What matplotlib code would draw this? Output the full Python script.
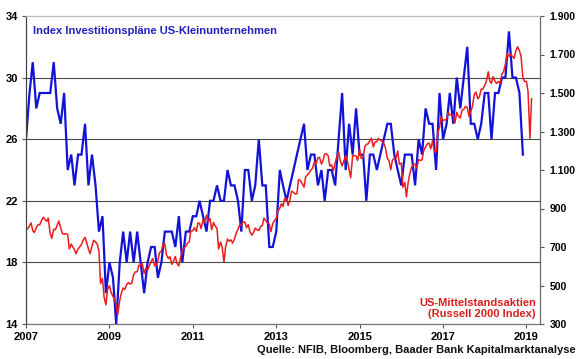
import pandas as pd
import matplotlib
matplotlib.use("Agg")
import matplotlib.pyplot as plt
import matplotlib.dates as mdates

# NFIB capex plans index, monthly from Jan 2007 (left axis)
capex_plans = [
    26, 29, 31, 28, 29, 29, 29, 29, 31, 28, 27, 29,  # 2007
    24, 25, 23, 25, 25, 27, 23, 25, 23, 20, 21, 16,  # 2008
    18, 17, 14, 18, 20, 18, 20, 18, 20, 18, 16, 18,  # 2009
    19, 19, 17, 18, 20, 20, 20, 19, 21, 18, 20, 20,  # 2010
    21, 21, 22, 21, 20, 22, 22, 23, 22, 22, 24, 23,  # 2011
    23, 22, 20, 24, 24, 22, 23, 26, 23, 23, 19, 19,  # 2012
    20, 24, 23, 22, 23, 24, 25, 26, 27, 24, 25, 25,  # 2013
    23, 24, 22, 24, 24, 23, 26, 29, 24, 27, 25, 28,  # 2014
    25, 25, 22, 25, 25, 24, 25, 26, 27, 27, 25, 24,  # 2015
    23, 25, 25, 25, 23, 26, 25, 28, 27, 27, 24, 29,  # 2016
    26, 27, 29, 27, 30, 28, 30, 32, 27, 27, 26, 27,  # 2017
    29, 29, 26, 29, 29, 30, 30, 33, 30, 30, 29, 25,  # 2018
]

# Russell 2000, on the 1st and 15th of each month from Jan 2007 (right axis)
russell = [
    788, 795, 810, 825, 785, 775, 800, 815, 815, 835, 855, 845,
    833, 850, 770, 745, 792, 790, 812, 835, 800, 770, 766, 770,  # 2007
    766, 690, 715, 700, 686, 665, 690, 700, 714, 735, 750, 725,
    690, 665, 705, 735, 727, 715, 680, 510, 537, 440, 400, 480,  # 2008
    499, 465, 443, 430, 395, 350, 423, 460, 487, 480, 505, 515,
    508, 510, 557, 570, 572, 605, 604, 615, 562, 590, 580, 600,  # 2009
    625, 640, 602, 605, 628, 670, 679, 715, 717, 660, 640, 650,
    610, 625, 651, 615, 602, 645, 676, 695, 703, 720, 727, 785,  # 2010
    784, 800, 781, 825, 823, 795, 843, 830, 865, 830, 848, 790,
    827, 810, 797, 690, 726, 700, 620, 700, 741, 730, 737, 720,  # 2011
    741, 770, 792, 815, 810, 830, 830, 800, 816, 780, 761, 775,
    798, 790, 786, 805, 812, 850, 837, 825, 819, 780, 822, 835,  # 2012
    849, 885, 902, 925, 911, 950, 951, 915, 947, 990, 984, 975,
    977, 1050, 1045, 1030, 1011, 1065, 1074, 1085, 1100, 1110, 1143, 1130,  # 2013
    1164, 1165, 1131, 1150, 1183, 1185, 1173, 1120, 1127, 1095, 1135, 1170,
    1193, 1150, 1121, 1145, 1175, 1150, 1101, 1060, 1174, 1175, 1173, 1150,  # 2014
    1205, 1160, 1165, 1220, 1233, 1235, 1253, 1265, 1220, 1245, 1247, 1265,
    1254, 1250, 1239, 1215, 1159, 1150, 1101, 1150, 1162, 1160, 1199, 1130,  # 2015
    1136, 1010, 1035, 960, 1034, 1080, 1114, 1130, 1130, 1110, 1154, 1150,
    1152, 1200, 1220, 1235, 1240, 1210, 1252, 1200, 1191, 1290, 1322, 1375,  # 2016
    1357, 1360, 1362, 1400, 1387, 1385, 1386, 1345, 1400, 1380, 1370, 1410,
    1415, 1430, 1425, 1380, 1405, 1430, 1491, 1505, 1470, 1480, 1520, 1520,  # 2017
    1540, 1560, 1610, 1560, 1550, 1585, 1560, 1550, 1560, 1550, 1600, 1611,
    1650, 1706, 1690, 1700, 1690, 1680, 1720, 1740, 1720, 1690, 1580, 1560,  # 2018
    1560, 1510, 1265, 1470,  # 2019
]

year_ticks = [2007, 2009, 2011, 2013, 2015, 2017, 2019]
left_ticks = [14, 18, 22, 26, 30, 34]
right_ticks = [300, 500, 700, 900, 1100, 1300, 1500, 1700, 1900]

title_left = "Index Investitionspläne US-Kleinunternehmen"
title_right = "US-Mittelstandsaktien\n(Russell 2000 Index)"
source = "Quelle: NFIB, Bloomberg, Baader Bank Kapitalmarktanalyse"

BLUE = "#1212d8"
RED = "#ec1c1c"

plt.rcParams["font.family"] = ["Liberation Sans", "DejaVu Sans"]
plt.rcParams["font.weight"] = "bold"

months = pd.date_range("2007-01-01", periods=len(capex_plans), freq="MS")
half_months = pd.date_range("2007-01-01", periods=len(russell), freq="SMS")

fig = plt.figure(figsize=(5.8, 3.59), dpi=100)
ax = fig.add_axes([26 / 580, 1 - 324 / 359, 514 / 580, 308 / 359])
ax2 = ax.twinx()

ax.plot(months, capex_plans, color=BLUE, lw=1.6, solid_joinstyle="miter")
ax2.plot(half_months, russell, color=RED, lw=1.1)

ax.set_xlim(pd.Timestamp("2007-01-01"), pd.Timestamp("2019-04-30"))
ax.set_ylim(14, 34)
ax2.set_ylim(300, 1900)

ax.set_xticks([pd.Timestamp(f"{y}-01-01") for y in year_ticks])
ax.xaxis.set_major_formatter(mdates.DateFormatter("%Y"))
ax.set_yticks(left_ticks)
ax.set_yticklabels([str(v) for v in left_ticks])
ax2.set_yticks(right_ticks)
ax2.set_yticklabels([f"{v:,}".replace(",", ".") for v in right_ticks])

ax.yaxis.grid(True, color="#4a4a4a", lw=0.8)
ax.get_ygridlines()[-1].set_visible(False)
ax.set_axisbelow(True)

ax.tick_params(axis="x", length=3, width=0.8, color="#555555", pad=3, labelsize=8)
ax.tick_params(axis="y", length=3, width=0.8, color="#555555", pad=3, labelsize=8)
ax2.tick_params(axis="y", length=3, width=0.8, color="#555555", pad=4, labelsize=7.5)

for a in (ax, ax2):
    a.spines["top"].set_color("#bbbbbb")
    a.spines["left"].set_color("#444444")
    a.spines["bottom"].set_color("#777777")
    a.spines["right"].set_color("#666666")

ax.text(0.014, 0.951, title_left, transform=ax.transAxes, color="#2020c0",
        fontsize=8, fontweight="bold", ha="left", va="center")
ax2.text(0.992, 0.05, title_right, transform=ax2.transAxes, color="#d91e1e",
         fontsize=8, fontweight="bold", ha="right", va="center",
         multialignment="right", linespacing=1.15)
fig.text(0.993, 0.025, source, color="#111111", fontsize=8,
         fontweight="bold", ha="right", va="center")

fig.savefig("out.png", dpi=100)
